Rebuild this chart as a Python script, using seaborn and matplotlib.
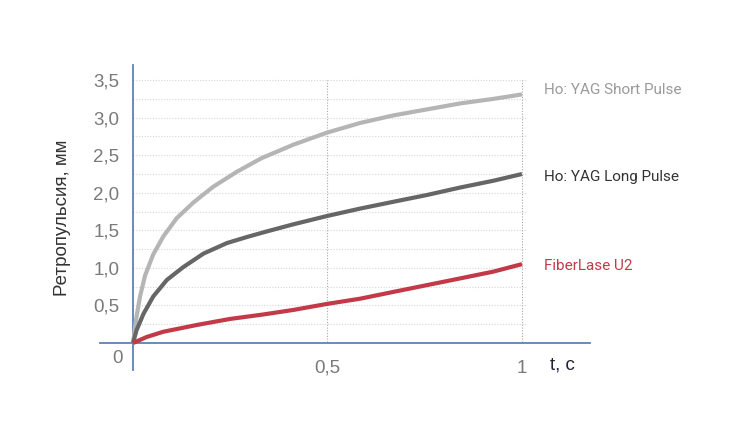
import numpy as np
import pandas as pd
import matplotlib
matplotlib.use("Agg")
import matplotlib.pyplot as plt
import seaborn as sns

# values (t in seconds, retropulsion in mm)
t_short = [0, 0.009, 0.018, 0.031, 0.052, 0.078, 0.112, 0.155, 0.206, 0.267, 0.33, 0.412,
           0.498, 0.584, 0.669, 0.755, 0.841, 0.926, 1.0]
y_short = [0, 0.35, 0.62, 0.90, 1.18, 1.42, 1.66, 1.87, 2.08, 2.28, 2.46, 2.64,
           2.80, 2.93, 3.03, 3.11, 3.19, 3.25, 3.31]

t_long = [0, 0.009, 0.027, 0.052, 0.087, 0.129, 0.181, 0.241, 0.292, 0.34, 0.412,
          0.498, 0.584, 0.669, 0.755, 0.841, 0.926, 1.0]
y_long = [0, 0.17, 0.39, 0.62, 0.84, 1.01, 1.19, 1.33, 1.41, 1.48, 1.58,
          1.69, 1.79, 1.88, 1.97, 2.07, 2.16, 2.25]

t_fiber = [0, 0.035, 0.078, 0.164, 0.249, 0.335, 0.412, 0.498, 0.584, 0.669, 0.755,
           0.841, 0.926, 1.0]
y_fiber = [0, 0.08, 0.15, 0.24, 0.32, 0.38, 0.44, 0.52, 0.59, 0.68, 0.77,
           0.86, 0.95, 1.05]

series_names = ["Ho: YAG Short Pulse", "Ho: YAG Long Pulse", "FiberLase U2"]
series_colors = ["#b5b5b5", "#666666", "#c23a48"]
label_colors = ["#9a9a9a", "#333333", "#c23a48"]

y_ticks = [0.5, 1.0, 1.5, 2.0, 2.5, 3.0, 3.5]
y_tick_labels = ["0,5", "1,0", "1,5", "2,0", "2,5", "3,0", "3,5"]
x_ticks = [0.5, 1.0]
x_tick_labels = ["0,5", "1"]
grid_levels = np.arange(0.25, 3.51, 0.25)

df = pd.concat([
    pd.DataFrame({"t": t_short, "mm": y_short, "series": series_names[0]}),
    pd.DataFrame({"t": t_long, "mm": y_long, "series": series_names[1]}),
    pd.DataFrame({"t": t_fiber, "mm": y_fiber, "series": series_names[2]}),
])

sns.set_style("white")
plt.rcParams["font.family"] = ["Liberation Sans", "DejaVu Sans"]

blue = "#5a84b5"
fig = plt.figure(figsize=(7.5, 4.4), dpi=100)
ax = fig.add_axes([0.1333, 0.159, 0.6534, 0.693])

# dotted grid
ax.hlines(grid_levels, 0, 1.01, colors="#d6d6d6", linestyles=(0, (1, 1.5)), linewidth=0.8, zorder=1)
ax.vlines(x_ticks, 0.02, 3.5, colors="#a8a8a8", linestyles=(0, (1, 1.5)), linewidth=0.8, zorder=1)

sns.lineplot(data=df, x="t", y="mm", hue="series", palette=dict(zip(series_names, series_colors)),
             linewidth=3.0, legend=False, ax=ax, zorder=3, sort=False)
for line in ax.get_lines():
    line.set_solid_capstyle("butt")
    line.set_solid_joinstyle("round")

ax.set_xlim(-0.085, 1.175)
ax.set_ylim(-0.36, 3.70)

for s in ["top", "right"]:
    ax.spines[s].set_visible(False)
ax.spines["left"].set_position(("data", 0))
ax.spines["bottom"].set_position(("data", 0))
for s in ["left", "bottom"]:
    ax.spines[s].set_color(blue)
    ax.spines[s].set_linewidth(1.3)

ax.set_yticks(y_ticks)
ax.set_yticklabels(y_tick_labels)
ax.set_xticks(x_ticks)
ax.set_xticklabels(x_tick_labels)
# short ticks detached from the axis line: blue long tick, white short tick on top
ax.set_yticks(y_ticks, minor=True)
ax.set_xticks(x_ticks, minor=True)
ax.xaxis.remove_overlapping_locs = False
ax.yaxis.remove_overlapping_locs = False
ax.tick_params(which="major", direction="out", length=8, width=1.3, color=blue,
               labelsize=13.5, labelcolor="#7a7a7a")
ax.tick_params(which="minor", direction="out", length=3.5, width=2, color="white")
ax.tick_params(axis="y", which="major", pad=2)
ax.tick_params(axis="x", which="major", pad=4)

ax.set_xlabel("")
ax.set_ylabel("Ретропульсия, мм", fontsize=13.5, color="#333333")
ax.yaxis.set_label_coords(-0.06, 0.5)

ax.annotate("0", (0, 0), xytext=(-11, -11), textcoords="offset points",
            ha="center", va="center", fontsize=13.5, color="#7a7a7a")
ax.annotate("t, c", (1, 0), xytext=(20, -16), textcoords="offset points",
            ha="left", va="center", fontsize=13.5, color="#222233")

ends = [y_short[-1], y_long[-1], y_fiber[-1]]
for name, col, ty, dy in zip(series_names, label_colors, ends, [3, -2, -1]):
    ax.annotate(name, (1, ty), xytext=(16, dy), textcoords="offset points",
                ha="left", va="center", fontsize=11, color=col,
                family=["Roboto", "DejaVu Sans"])

fig.savefig("out.png", dpi=100, facecolor="white")
